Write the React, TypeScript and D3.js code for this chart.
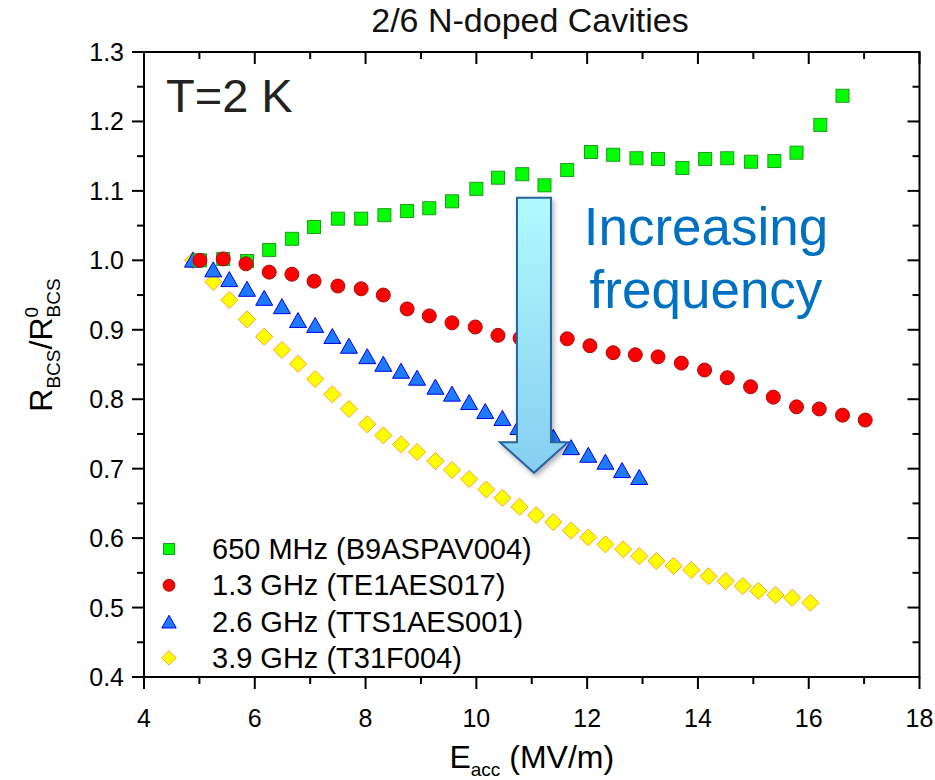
import React from "react";
import * as d3 from "d3";

const W = 935;
const H = 780;

const greenE = [5.01, 5.43, 5.86, 6.26, 6.67, 7.07, 7.5, 7.92, 8.34, 8.75, 9.15, 9.56, 10.0, 10.39, 10.83, 11.23, 11.64, 12.07, 12.47, 12.89, 13.28, 13.72, 14.13, 14.53, 14.96, 15.38, 15.78, 16.21, 16.61];
const greenR = [1.0, 1.002, 0.999, 1.015, 1.031, 1.048, 1.06, 1.06, 1.065, 1.071, 1.075, 1.085, 1.103, 1.119, 1.124, 1.108, 1.13, 1.156, 1.152, 1.147, 1.146, 1.133, 1.146, 1.147, 1.142, 1.143, 1.155, 1.195, 1.237];

const redE = [5.01, 5.43, 5.84, 6.26, 6.67, 7.07, 7.5, 7.92, 8.32, 8.75, 9.15, 9.56, 9.98, 10.39, 10.79, 11.23, 11.64, 12.05, 12.47, 12.87, 13.28, 13.7, 14.12, 14.53, 14.95, 15.36, 15.78, 16.19, 16.61, 17.02];
const redR = [1.0, 1.002, 0.995, 0.983, 0.98, 0.97, 0.963, 0.959, 0.95, 0.93, 0.92, 0.91, 0.904, 0.892, 0.888, 0.885, 0.887, 0.877, 0.867, 0.864, 0.861, 0.852, 0.842, 0.831, 0.818, 0.803, 0.789, 0.786, 0.777, 0.77];

const blueE = [4.885, 5.25, 5.54, 5.86, 6.17, 6.49, 6.78, 7.09, 7.4, 7.7, 8.03, 8.32, 8.64, 8.93, 9.26, 9.56, 9.87, 10.16, 10.47, 10.76, 11.08, 11.39, 11.71, 12.02, 12.33, 12.63, 12.94];
const blueR = [1.001, 0.987, 0.973, 0.959, 0.946, 0.934, 0.914, 0.907, 0.891, 0.877, 0.862, 0.851, 0.841, 0.831, 0.818, 0.808, 0.796, 0.783, 0.773, 0.76, 0.753, 0.746, 0.731, 0.72, 0.71, 0.698, 0.688];

const yellowE = [4.885, 5.25, 5.54, 5.86, 6.17, 6.49, 6.78, 7.09, 7.4, 7.7, 8.03, 8.32, 8.64, 8.93, 9.26, 9.56, 9.87, 10.18, 10.47, 10.78, 11.08, 11.39, 11.71, 12.02, 12.33, 12.65, 12.94, 13.25, 13.56, 13.88, 14.19, 14.5, 14.81, 15.09, 15.4, 15.7, 16.03];
const yellowR = [1.0, 0.969, 0.943, 0.915, 0.89, 0.871, 0.851, 0.829, 0.807, 0.786, 0.764, 0.748, 0.735, 0.724, 0.711, 0.698, 0.685, 0.67, 0.658, 0.645, 0.633, 0.623, 0.611, 0.601, 0.591, 0.584, 0.574, 0.567, 0.56, 0.554, 0.545, 0.538, 0.531, 0.524, 0.518, 0.514, 0.507];

const legendLabels = ["650 MHz (B9ASPAV004)", "1.3 GHz (TE1AES017)", "2.6 GHz (TTS1AES001)", "3.9 GHz (T31F004)"];
const xTicks = [4, 6, 8, 10, 12, 14, 16, 18];
const yTicks = [0.4, 0.5, 0.6, 0.7, 0.8, 0.9, 1.0, 1.1, 1.2, 1.3];

// arrow annotation in data units
const arrowE = 11.04;
const arrowTop = 1.09;
const arrowHeadTop = 0.738;
const arrowTip = 0.694;

const FONT = "'Liberation Sans', Arial, sans-serif";

type Shape = "square" | "circle" | "triangle" | "diamond";

function Marker({ shape, x, y, fill, stroke, s = 1 }: { shape: Shape; x: number; y: number; fill: string; stroke: string; s?: number }) {
  if (shape === "square") {
    const h = 6.5 * s;
    return <rect x={x - h} y={y - h} width={2 * h} height={2 * h} fill={fill} stroke={stroke} strokeWidth={1} />;
  }
  if (shape === "circle") {
    return <circle cx={x} cy={y} r={7 * s} fill={fill} stroke={stroke} strokeWidth={1} />;
  }
  if (shape === "triangle") {
    const hw = 8.5 * s;
    const hh = 7.5 * s;
    return <path d={`M${x},${y - hh}L${x + hw},${y + hh}L${x - hw},${y + hh}Z`} fill={fill} stroke={stroke} strokeWidth={1} />;
  }
  const r = 8.5 * s;
  return <path d={`M${x},${y - r}L${x + r},${y}L${x},${y + r}L${x - r},${y}Z`} fill={fill} stroke={stroke} strokeWidth={1} />;
}

export default function App() {
  const left = 144, right = 919.5, top = 52, bottom = 677;
  const x = d3.scaleLinear().domain([4, 18]).range([left, right]);
  const y = d3.scaleLinear().domain([0.4, 1.3]).range([bottom, top]);

  const xMinor = d3.range(5, 18, 2);
  const yMinor = d3.range(0.45, 1.3, 0.1);

  const series = [
    { E: greenE, R: greenR, shape: "square" as Shape, fill: "#00FF00", stroke: "#1C9A1C" },
    { E: redE, R: redR, shape: "circle" as Shape, fill: "#FF0000", stroke: "#A01010" },
    { E: blueE, R: blueR, shape: "triangle" as Shape, fill: "#1E7BFF", stroke: "#0000EE" },
    { E: yellowE, R: yellowR, shape: "diamond" as Shape, fill: "#FFFF00", stroke: "#FFA020" },
  ];
  const drawOrder = [3, 2, 0, 1];

  const ax = x(arrowE);
  const bw = 17, hw = 34;
  const arrowPath = `M${ax - bw},${y(arrowTop)}L${ax + bw},${y(arrowTop)}L${ax + bw},${y(arrowHeadTop)}L${ax + hw},${y(arrowHeadTop)}L${ax},${y(arrowTip)}L${ax - hw},${y(arrowHeadTop)}L${ax - bw},${y(arrowHeadTop)}Z`;

  const major = 12, minor = 7;

  return (
    <svg width={W} height={H} style={{ position: "fixed", left: 0, top: 0, background: "#fff" }} fontFamily={FONT}>
      <defs>
        <linearGradient id="arrowGrad" x1="0" y1="0" x2="0" y2="1">
          <stop offset="0%" stopColor="#B0FAFF" />
          <stop offset="100%" stopColor="#86CEF0" />
        </linearGradient>
        <filter id="shadow" x="-30%" y="-10%" width="160%" height="130%">
          <feDropShadow dx="2" dy="3" stdDeviation="2.5" floodColor="#000" floodOpacity="0.3" />
        </filter>
      </defs>

      <rect x={0} y={0} width={W} height={H} fill="#fff" />

      {/* Title */}
      <text x={530} y={32} textAnchor="middle" fontSize={34} fill="#111">2/6 N-doped Cavities</text>

      {/* frame */}
      <rect x={left} y={top} width={right - left} height={bottom - top} fill="none" stroke="#000" strokeWidth={2} />

      {/* x ticks */}
      {xTicks.map((t) => (
        <g key={"xt" + t}>
          <line x1={x(t)} x2={x(t)} y1={bottom} y2={bottom + major} stroke="#000" strokeWidth={2} />
          <line x1={x(t)} x2={x(t)} y1={top} y2={top + major} stroke="#000" strokeWidth={2} />
          <text x={x(t)} y={727} textAnchor="middle" fontSize={25} fill="#000">{t}</text>
        </g>
      ))}
      {xMinor.map((t) => (
        <g key={"xm" + t}>
          <line x1={x(t)} x2={x(t)} y1={bottom} y2={bottom + minor} stroke="#000" strokeWidth={2} />
          <line x1={x(t)} x2={x(t)} y1={top} y2={top + minor} stroke="#000" strokeWidth={2} />
        </g>
      ))}

      {/* y ticks */}
      {yTicks.map((t) => (
        <g key={"yt" + t}>
          <line x1={left - major} x2={left} y1={y(t)} y2={y(t)} stroke="#000" strokeWidth={2} />
          <line x1={right - major} x2={right} y1={y(t)} y2={y(t)} stroke="#000" strokeWidth={2} />
          <text x={124} y={y(t) + 9} textAnchor="end" fontSize={25} fill="#000">{t.toFixed(1)}</text>
        </g>
      ))}
      {yMinor.map((t) => (
        <g key={"ym" + t}>
          <line x1={left - minor} x2={left} y1={y(t)} y2={y(t)} stroke="#000" strokeWidth={2} />
          <line x1={right - minor} x2={right} y1={y(t)} y2={y(t)} stroke="#000" strokeWidth={2} />
        </g>
      ))}

      {/* axis titles */}
      <text x={(left + right) / 2} y={768} textAnchor="middle" fontSize={32} fill="#000">
        E<tspan fontSize={19} dy={8}>acc</tspan><tspan dy={-8}> (MV/m)</tspan>
      </text>
      <text transform={`translate(52,345) rotate(-90)`} textAnchor="middle" fontSize={32} fill="#000">
        R<tspan fontSize={19} dy={8}>BCS</tspan><tspan dy={-8}>/R</tspan><tspan fontSize={19} dy={-14}>0</tspan><tspan fontSize={19} dx={-10.5} dy={22}>BCS</tspan>
      </text>

      {/* data */}
      {drawOrder.map((si) => {
        const s = series[si];
        return (
          <g key={"s" + si}>
            {s.E.map((e, i) => (
              <Marker key={i} shape={s.shape} x={x(e)} y={y(s.R[i])} fill={s.fill} stroke={s.stroke} />
            ))}
          </g>
        );
      })}

      {/* T=2 K */}
      <text x={166} y={112} fontSize={47} fill="#222">T=2 K</text>

      {/* arrow */}
      <path d={arrowPath} fill="url(#arrowGrad)" stroke="#2A64A0" strokeWidth={2} filter="url(#shadow)" strokeLinejoin="miter" />

      {/* Increasing frequency */}
      <text x={706} y={245} textAnchor="middle" fontSize={53} fill="#0070C0">Increasing</text>
      <text x={706} y={308} textAnchor="middle" fontSize={53} fill="#0070C0">frequency</text>

      {/* legend */}
      {series.map((s, i) => (
        <g key={"lg" + i}>
          <Marker shape={s.shape} x={169} y={549 + i * 36.3} fill={s.fill} stroke={s.stroke} s={0.85} />
          <text x={212} y={559 + i * 36.3} fontSize={29} fill="#000">{legendLabels[i]}</text>
        </g>
      ))}
    </svg>
  );
}
